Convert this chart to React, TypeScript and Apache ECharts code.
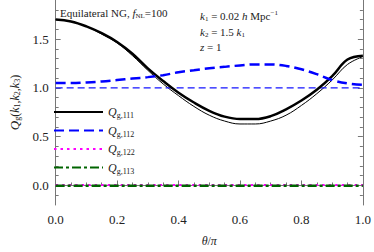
import React, { useEffect, useRef } from "react";
import * as echarts from "echarts";

const thetaOverPi = [0, 0.05, 0.1, 0.15, 0.2, 0.25, 0.3, 0.35, 0.4, 0.45, 0.5, 0.55, 0.6, 0.65, 0.7, 0.75, 0.8, 0.85, 0.9, 0.95, 1.0];
const q111 = [1.70, 1.68, 1.63, 1.56, 1.47, 1.35, 1.20, 1.07, 0.95, 0.85, 0.765, 0.705, 0.68, 0.68, 0.71, 0.78, 0.87, 0.98, 1.12, 1.29, 1.33];
const q111Thin = [1.70, 1.68, 1.63, 1.55, 1.46, 1.33, 1.18, 1.04, 0.92, 0.81, 0.72, 0.66, 0.63, 0.63, 0.66, 0.72, 0.82, 0.94, 1.08, 1.24, 1.32];
const q112 = [1.05, 1.05, 1.055, 1.065, 1.08, 1.095, 1.11, 1.13, 1.16, 1.18, 1.20, 1.215, 1.23, 1.24, 1.24, 1.225, 1.19, 1.14, 1.08, 1.045, 1.03];
const q112Ref = [1, 1, 1, 1, 1, 1, 1, 1, 1, 1, 1, 1, 1, 1, 1, 1, 1, 1, 1, 1, 1];
const q122 = [0.006, 0.006, 0.006, 0.006, 0.006, 0.006, 0.006, 0.006, 0.006, 0.006, 0.006, 0.006, 0.006, 0.006, 0.006, 0.006, 0.006, 0.006, 0.006, 0.006, 0.006];
const q113 = [-0.004, -0.004, -0.004, -0.004, -0.004, -0.004, -0.004, -0.004, -0.004, -0.004, -0.004, -0.004, -0.004, -0.004, -0.004, -0.004, -0.004, -0.004, -0.004, -0.004, -0.004];
const yMajorTicks = [0, 0.5, 1.0, 1.5];
const yMinorTicks = [-0.1, 0.1, 0.2, 0.3, 0.4, 0.6, 0.7, 0.8, 0.9, 1.1, 1.2, 1.3, 1.4, 1.6, 1.7, 1.8];
const legendSubs: Record<string, string> = { Q111: "g,111", Q112: "g,112", Q122: "g,122", Q113: "g,113" };

const FONT = "'Liberation Serif', 'DejaVu Serif', serif";
const FRAME = "#777";

const pairs = (ys: number[]) => thetaOverPi.map((t, i) => [t, ys[i]]);

export default function App() {
  const ref = useRef<HTMLDivElement>(null);
  useEffect(() => {
    if (!ref.current) return;
    const chart = echarts.init(ref.current, undefined, { renderer: "svg" });
    const subRich = {
      q: { fontFamily: FONT, fontStyle: "italic", fontSize: 12, color: "#222" },
      s: { fontFamily: FONT, fontSize: 8, color: "#222", verticalAlign: "bottom", padding: [7, 0, 0, 0] },
    };
    const yBase = {
      type: "value",
      min: -0.2,
      max: 1.9,
      splitLine: { show: false },
    };
    chart.setOption({
      animation: false,
      backgroundColor: "#fff",
      grid: { left: 46, right: 8, top: 0, bottom: 39 },
      xAxis: [
        {
          type: "value",
          min: 0,
          max: 1,
          interval: 0.2,
          position: "bottom",
          axisLine: { show: true, lineStyle: { color: FRAME, width: 1 } },
          axisTick: { show: true, inside: true, length: 5, lineStyle: { color: FRAME } },
          minorTick: { show: true, splitNumber: 4, length: 3, lineStyle: { color: FRAME } },
          splitLine: { show: false },
          axisLabel: {
            fontFamily: FONT,
            fontSize: 13,
            color: "#222",
            margin: 8,
            formatter: (v: number) => v.toFixed(1),
          },
          name: "{i|θ}{n|/}{i|π}",
          nameLocation: "middle",
          nameGap: 30,
          nameTextStyle: {
            rich: {
              i: { fontFamily: FONT, fontStyle: "italic", fontSize: 12, color: "#222" },
              n: { fontFamily: FONT, fontSize: 12, color: "#222" },
            },
          },
        },
      ],
      yAxis: [
        {
          ...yBase,
          position: "left",
          axisLine: { show: true, lineStyle: { color: FRAME, width: 1 } },
          axisTick: { show: true, inside: true, length: 5, customValues: yMajorTicks, lineStyle: { color: FRAME } },
          axisLabel: {
            customValues: yMajorTicks,
            fontFamily: FONT,
            fontSize: 13,
            color: "#222",
            margin: 7,
            formatter: (v: number) => v.toFixed(1),
          },
          name: "{q|Q}{s|g}{n|(}{i|k}{s|1}{n|,}{i|k}{s|2}{n|,}{i|k}{s|3}{n|)}",
          nameLocation: "middle",
          nameRotate: 90,
          nameGap: 34,
          nameTextStyle: {
            rich: {
              q: { fontFamily: FONT, fontStyle: "italic", fontSize: 13, color: "#222" },
              i: { fontFamily: FONT, fontStyle: "italic", fontSize: 12, color: "#222" },
              n: { fontFamily: FONT, fontSize: 12, color: "#222" },
              s: { fontFamily: FONT, fontSize: 8, color: "#222", verticalAlign: "bottom", padding: [6, 0, 0, 0] },
            },
          },
        },
        {
          ...yBase,
          position: "left",
          axisLine: { show: false },
          axisTick: { show: true, inside: true, length: 3, customValues: yMinorTicks, lineStyle: { color: FRAME } },
          axisLabel: { show: false },
        },
        {
          ...yBase,
          position: "right",
          axisLine: { show: true, lineStyle: { color: FRAME, width: 1 } },
          axisTick: { show: true, inside: true, length: 5, customValues: yMajorTicks, lineStyle: { color: FRAME } },
          axisLabel: { show: false },
        },
        {
          ...yBase,
          position: "right",
          axisLine: { show: false },
          axisTick: { show: true, inside: true, length: 3, customValues: yMinorTicks, lineStyle: { color: FRAME } },
          axisLabel: { show: false },
        },
      ],
      legend: {
        data: ["Q111", "Q112", "Q122", "Q113"],
        orient: "vertical",
        left: 53,
        top: 106,
        padding: 0,
        itemWidth: 49,
        itemHeight: 10,
        itemGap: 5,
        selectedMode: false,
        itemStyle: { opacity: 0 },
        formatter: (name: string) => `{q|Q}{s|${legendSubs[name]}}`,
        textStyle: { rich: subRich },
      },
      graphic: [
        {
          type: "text",
          left: 60,
          top: 7,
          style: {
            text: "{n|Equilateral NG, }{i|f}{s|NL}{n|=100}",
            rich: {
              n: { fontFamily: FONT, fontSize: 11, fill: "#222" },
              i: { fontFamily: FONT, fontStyle: "italic", fontSize: 11, fill: "#222" },
              s: { fontFamily: FONT, fontSize: 7, fill: "#222", verticalAlign: "bottom", padding: [6, 0, 0, 0] },
            },
          },
        },
        {
          type: "text",
          left: 200,
          top: 9,
          style: {
            text: "{i|k}{s|1}{n| = 0.02 }{i|h}{n| Mpc}{p|−1}",
            rich: {
              n: { fontFamily: FONT, fontSize: 11, fill: "#222" },
              i: { fontFamily: FONT, fontStyle: "italic", fontSize: 11, fill: "#222" },
              s: { fontFamily: FONT, fontSize: 7, fill: "#222", verticalAlign: "bottom", padding: [6, 0, 0, 0] },
              p: { fontFamily: FONT, fontSize: 7, fill: "#222", verticalAlign: "top", padding: [0, 0, 6, 0] },
            },
          },
        },
        {
          type: "text",
          left: 200,
          top: 26,
          style: {
            text: "{i|k}{s|2}{n| = 1.5 }{i|k}{s|1}",
            rich: {
              n: { fontFamily: FONT, fontSize: 11, fill: "#222" },
              i: { fontFamily: FONT, fontStyle: "italic", fontSize: 11, fill: "#222" },
              s: { fontFamily: FONT, fontSize: 7, fill: "#222", verticalAlign: "bottom", padding: [6, 0, 0, 0] },
            },
          },
        },
        {
          type: "text",
          left: 200,
          top: 41,
          style: {
            text: "{i|z}{n| = 1}",
            rich: {
              n: { fontFamily: FONT, fontSize: 11, fill: "#222" },
              i: { fontFamily: FONT, fontStyle: "italic", fontSize: 11, fill: "#222" },
            },
          },
        },
      ],
      series: [
        {
          name: "thin111",
          type: "line",
          data: pairs(q111Thin),
          smooth: 0.4,
          symbol: "none",
          lineStyle: { color: "#000", width: 1 },
        },
        {
          name: "ref112",
          type: "line",
          data: pairs(q112Ref),
          symbol: "none",
          lineStyle: { color: "#1515ff", width: 1.3, type: [7, 4] },
        },
        {
          name: "Q111",
          type: "line",
          data: pairs(q111),
          smooth: 0.4,
          symbol: "none",
          itemStyle: { color: "#000" },
          lineStyle: { color: "#000", width: 2.5 },
        },
        {
          name: "Q112",
          type: "line",
          data: pairs(q112),
          smooth: 0.4,
          symbol: "none",
          itemStyle: { color: "#0000ff" },
          lineStyle: { color: "#0000ff", width: 2.5, type: [10, 5] },
        },
        {
          name: "Q122",
          type: "line",
          data: pairs(q122),
          symbol: "none",
          itemStyle: { color: "#ff00ff" },
          lineStyle: { color: "#ff00ff", width: 2, type: [2.5, 4] },
        },
        {
          name: "Q113",
          type: "line",
          data: pairs(q113),
          symbol: "none",
          itemStyle: { color: "#006400" },
          lineStyle: { color: "#006400", width: 2.5, type: [9, 3, 3, 3] },
        },
      ],
    } as any);
    return () => chart.dispose();
  }, []);
  return <div ref={ref} style={{ width: 374, height: 252, position: "absolute", left: 0, top: 0 }} />;
}
